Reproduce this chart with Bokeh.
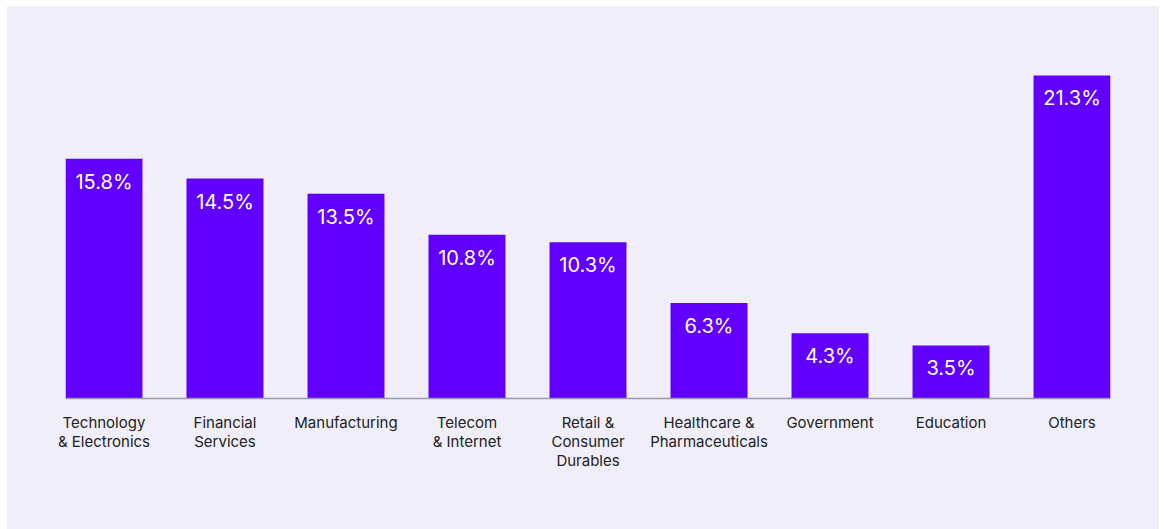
from bokeh.plotting import figure
from bokeh.models import ColumnDataSource, Range1d, FixedTicker
from bokeh.core.properties import value
from bokeh.embed import file_html
from bokeh.resources import INLINE

categories = ["Technology\n& Electronics", "Financial\nServices", "Manufacturing",
              "Telecom\n& Internet", "Retail &\nConsumer\nDurables",
              "Healthcare &\nPharmaceuticals", "Government", "Education", "Others"]
shares = [15.8, 14.5, 13.5, 10.8, 10.3, 6.3, 4.3, 3.5, 21.3]
labels = [f"{v:.1f}%" for v in shares]
positions = list(range(len(categories)))

BG = "#EFEEF9"
BAR = "#6100FF"
BW = 0.636

src = ColumnDataSource(dict(x=positions, val=shares, lab=labels))

p = figure(x_range=Range1d(-BW / 2, positions[-1] + BW / 2),
           y_range=Range1d(0, 24),
           width=1152, height=523, output_backend="svg", toolbar_location=None,
           min_border_left=58, min_border_right=49, min_border_top=28, min_border_bottom=131)
p.margin = (6, 0, 0, 7)
p.styles = {"background-color": BG}
p.background_fill_color = None
p.border_fill_color = None
p.outline_line_color = None
p.grid.visible = False
p.yaxis.visible = False

p.vbar(x="x", top="val", width=BW, source=src, fill_color=BAR, line_color=None)
p.text(x="x", y="val", text="lab", source=src, text_color="white",
       text_font=value("Inter"), text_font_size="20px", text_align="center",
       text_baseline="middle", y_offset=23)

ax = p.xaxis[0]
ax.ticker = FixedTicker(ticks=positions)
ax.major_label_overrides = {i: c for i, c in zip(positions, categories)}
ax.axis_line_color = "#9A99A6"
ax.axis_line_width = 1.5
ax.major_tick_line_color = None
ax.minor_tick_line_color = None
ax.major_label_text_font = "Inter"
ax.major_label_text_font_size = "15px"
ax.major_label_text_color = "#222222"
ax.major_label_standoff = 8
ax.major_label_text_line_height = 1.0

open("out.html", "w").write(file_html(p, INLINE))
